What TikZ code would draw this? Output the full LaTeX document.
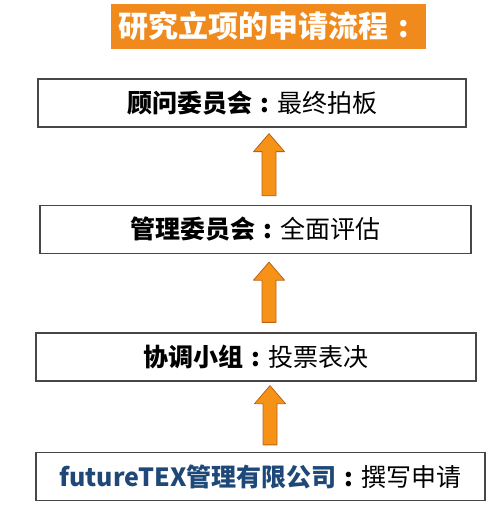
\documentclass[tikz,border=0pt]{standalone}
\usepackage{fontspec}
\setmainfont{Noto Sans CJK SC}
\usepackage{tikz}
\usetikzlibrary{calc}

\definecolor{titleorange}{RGB}{240,138,28}
\definecolor{arroworange}{RGB}{247,146,24}
\definecolor{arrowedge}{RGB}{185,100,20}
\definecolor{boxedge}{RGB}{75,70,70}
\definecolor{companyblue}{RGB}{30,72,120}
% centred full-width colon
\newcommand{\cncolon}{\hbox to 1em{\hss\textbf{:}\hss}}

\begin{document}
\begin{tikzpicture}[x=1pt, y=-1pt,
		title_style/.style={rectangle,fill=titleorange,text=white,font=\fontsize{30}{32}\selectfont\bfseries,inner sep=0pt,minimum height=45pt},
		box_style/.style={rectangle,draw=boxedge,line width=1.3pt,fill=white,font=\fontsize{25}{27}\selectfont,inner sep=0pt,minimum height=48pt},
		arrow_style/.style={draw=arrowedge,fill=arroworange,line width=0.8pt,line join=round}]

		\useasboundingbox (0,0) rectangle (500,518);

		\node[title_style, minimum width=315pt] (title) at (268.5,26.5) {研究立项的申请流程\cncolon};

		\node[box_style, minimum width=428pt] (n1) at (252,103)   {\textbf{顾问委员会}\cncolon 最终拍板};
		\node[box_style, minimum width=431pt] (n2) at (255.5,229.5) {\textbf{管理委员会}\cncolon 全面评估};
		\node[box_style, minimum width=440pt] (n3) at (256,357)   {\textbf{协调小组}\cncolon 投票表决};
		\node[box_style, minimum width=449pt] (n4) at (260.5,476.5) {\textcolor{companyblue}{\textbf{futureTEX管理有限公司}}\cncolon 撰写申请};

		% block arrows, from lower box up to upper box
		\draw[arrow_style] let \p1=(n2.north), \p2=(n1.south) in
			(262pt,\y1+9pt) -- (262pt,\y2-24pt) -- (253.5pt,\y2-24pt) -- (269pt,\y2-6pt)
			-- (284.5pt,\y2-24pt) -- (276pt,\y2-24pt) -- (276pt,\y1+9pt) -- cycle;
		\draw[arrow_style] let \p1=(n3.north), \p2=(n2.south) in
			(262pt,\y1+10pt) -- (262pt,\y2-26pt) -- (253.5pt,\y2-26pt) -- (269pt,\y2-8pt)
			-- (284.5pt,\y2-26pt) -- (276pt,\y2-26pt) -- (276pt,\y1+10pt) -- cycle;
		\draw[arrow_style] let \p1=(n4.north), \p2=(n3.south) in
			(263pt,\y1+7pt) -- (263pt,\y2-22pt) -- (254.5pt,\y2-22pt) -- (270pt,\y2-4pt)
			-- (285.5pt,\y2-22pt) -- (277pt,\y2-22pt) -- (277pt,\y1+7pt) -- cycle;

\end{tikzpicture}
\end{document}
